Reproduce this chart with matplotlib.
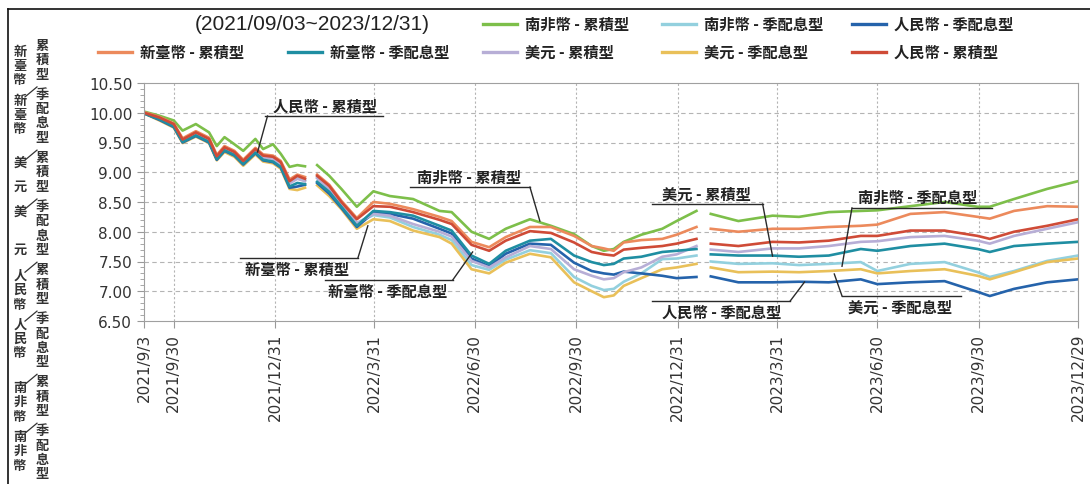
import matplotlib
matplotlib.use('Agg')
import matplotlib.pyplot as plt
import matplotlib.ticker as mticker
from matplotlib.lines import Line2D
import numpy as np
import pandas as pd

nan = np.nan

# 淨值走勢 (讀圖估計, 約兩三週一點; nan = 春節休市缺口)
dates = ['2021-09-03', '2021-09-17', '2021-09-30', '2021-10-08', '2021-10-20',
         '2021-11-01', '2021-11-08', '2021-11-15', '2021-11-24', '2021-12-02',
         '2021-12-13', '2021-12-20', '2021-12-29', '2022-01-05', '2022-01-13',
         '2022-01-20', '2022-01-27', '2022-02-01', '2022-02-07', '2022-02-18',
         '2022-03-01', '2022-03-15', '2022-03-30', '2022-04-14', '2022-05-05',
         '2022-05-29', '2022-06-09', '2022-06-27', '2022-07-13', '2022-07-28',
         '2022-08-19', '2022-09-07', '2022-09-28', '2022-10-14', '2022-10-25',
         '2022-11-03', '2022-11-12', '2022-11-28', '2022-12-17', '2022-12-30',
         '2023-01-17', '2023-01-24', '2023-01-30', '2023-02-24', '2023-03-27',
         '2023-04-20', '2023-05-17', '2023-06-15', '2023-06-30', '2023-07-30',
         '2023-08-30', '2023-09-29', '2023-10-10', '2023-11-01', '2023-12-01',
         '2023-12-29']

zar_acc = [10.02, 9.95, 9.87, 9.70, 9.81, 9.67, 9.44, 9.59, 9.47, 9.36,
           9.56, 9.39, 9.47, 9.31, 9.09, 9.12, 9.10, nan, 9.12, 8.94,
           8.72, 8.42, 8.68, 8.60, 8.55, 8.35, 8.33, 8.00, 7.88, 8.05,
           8.21, 8.10, 7.96, 7.76, 7.68, 7.71, 7.83, 7.95, 8.05, 8.18,
           8.35, nan, 8.30, 8.18, 8.27, 8.25, 8.33, 8.35, 8.36, 8.43,
           8.50, 8.42, 8.42, 8.55, 8.72, 8.85]
twd_acc = [10.01, 9.93, 9.82, 9.57, 9.69, 9.58, 9.29, 9.44, 9.36, 9.21,
           9.41, 9.30, 9.28, 9.19, 8.88, 8.96, 8.92, nan, 8.96, 8.79,
           8.52, 8.23, 8.50, 8.47, 8.38, 8.25, 8.18, 7.83, 7.74, 7.91,
           8.08, 8.08, 7.93, 7.76, 7.72, 7.68, 7.82, 7.86, 7.88, 7.95,
           8.08, nan, 8.05, 8.00, 8.05, 8.05, 8.08, 8.10, 8.12, 8.30,
           8.33, 8.25, 8.22, 8.35, 8.43, 8.42]
cny_acc = [10.00, 9.92, 9.81, 9.55, 9.67, 9.56, 9.27, 9.42, 9.34, 9.19,
           9.39, 9.28, 9.26, 9.17, 8.85, 8.94, 8.89, nan, 8.94, 8.77,
           8.50, 8.21, 8.43, 8.42, 8.33, 8.20, 8.13, 7.78, 7.68, 7.85,
           8.01, 7.98, 7.82, 7.66, 7.62, 7.60, 7.70, 7.73, 7.76, 7.80,
           7.88, nan, 7.80, 7.76, 7.83, 7.82, 7.85, 7.93, 7.93, 8.02,
           8.02, 7.93, 7.88, 8.00, 8.10, 8.21]
usd_acc = [10.00, 9.90, 9.79, 9.52, 9.64, 9.53, 9.24, 9.39, 9.31, 9.16,
           9.36, 9.25, 9.22, 9.13, 8.81, 8.89, 8.85, nan, 8.90, 8.72,
           8.46, 8.14, 8.30, 8.27, 8.13, 8.00, 7.92, 7.51, 7.40, 7.57,
           7.76, 7.71, 7.37, 7.26, 7.20, 7.22, 7.32, 7.40, 7.58, 7.62,
           7.76, nan, 7.70, 7.66, 7.72, 7.72, 7.76, 7.83, 7.84, 7.91,
           7.93, 7.85, 7.80, 7.93, 8.05, 8.16]
twd_div = [9.99, 9.89, 9.77, 9.51, 9.62, 9.51, 9.22, 9.37, 9.29, 9.14,
           9.33, 9.21, 9.18, 9.09, 8.76, 8.82, 8.80, nan, 8.84, 8.67,
           8.42, 8.10, 8.35, 8.33, 8.27, 8.10, 8.02, 7.60, 7.46, 7.68,
           7.85, 7.88, 7.60, 7.49, 7.44, 7.46, 7.55, 7.58, 7.66, 7.68,
           7.71, nan, 7.62, 7.60, 7.60, 7.58, 7.60, 7.71, 7.68, 7.76,
           7.80, 7.71, 7.66, 7.76, 7.80, 7.83]
zar_div = [10.00, 9.90, 9.79, 9.54, 9.66, 9.55, 9.27, 9.42, 9.33, 9.18,
           9.38, 9.26, 9.24, 9.15, 8.83, 8.90, 8.86, nan, 8.92, 8.74,
           8.47, 8.15, 8.28, 8.24, 8.08, 7.95, 7.86, 7.44, 7.36, 7.53,
           7.69, 7.64, 7.24, 7.09, 7.02, 7.04, 7.16, 7.30, 7.54, 7.55,
           7.60, nan, 7.50, 7.46, 7.47, 7.44, 7.46, 7.49, 7.34, 7.46,
           7.49, 7.32, 7.24, 7.34, 7.51, 7.60]
usd_div = [9.99, 9.87, 9.75, 9.49, 9.60, 9.49, 9.20, 9.34, 9.26, 9.11,
           9.30, 9.18, 9.15, 9.06, 8.72, 8.70, 8.74, nan, 8.78, 8.60,
           8.38, 8.05, 8.21, 8.18, 8.02, 7.91, 7.80, 7.37, 7.30, 7.48,
           7.63, 7.57, 7.15, 7.00, 6.90, 6.93, 7.09, 7.22, 7.37, 7.40,
           7.46, nan, 7.40, 7.32, 7.33, 7.32, 7.34, 7.37, 7.30, 7.34,
           7.37, 7.26, 7.20, 7.32, 7.49, 7.55]
cny_div = [9.99, 9.88, 9.76, 9.50, 9.61, 9.50, 9.21, 9.36, 9.28, 9.13,
           9.32, 9.20, 9.17, 9.08, 8.74, 8.76, 8.79, nan, 8.82, 8.64,
           8.40, 8.08, 8.32, 8.30, 8.22, 8.05, 7.97, 7.55, 7.42, 7.63,
           7.80, 7.78, 7.48, 7.34, 7.30, 7.28, 7.33, 7.30, 7.26, 7.22,
           7.24, nan, 7.25, 7.15, 7.15, 7.16, 7.15, 7.20, 7.12, 7.15,
           7.17, 6.99, 6.92, 7.04, 7.15, 7.20]

tick_dates = ['2021-09-03', '2021-09-30', '2021-12-31', '2022-03-31', '2022-06-30',
              '2022-09-30', '2022-12-31', '2023-03-31', '2023-06-30', '2023-09-30',
              '2023-12-29']
tick_labels = ['2021/9/3', '2021/9/30', '2021/12/31', '2022/3/31', '2022/6/30',
               '2022/9/30', '2022/12/31', '2023/3/31', '2023/6/30', '2023/9/30',
               '2023/12/29']
y_ticks = [6.5, 7.0, 7.5, 8.0, 8.5, 9.0, 9.5, 10.0, 10.5]

COL = {
    '南非幣 - 累積型': '#7dbf4a',
    '南非幣 - 季配息型': '#93d0de',
    '人民幣 - 季配息型': '#2563ab',
    '新臺幣 - 累積型': '#ec8a5c',
    '新臺幣 - 季配息型': '#1f8ea2',
    '美元 - 累積型': '#b7aed6',
    '美元 - 季配息型': '#e9c059',
    '人民幣 - 累積型': '#cf4b37',
}
series = {
    '南非幣 - 累積型': zar_acc, '南非幣 - 季配息型': zar_div,
    '人民幣 - 季配息型': cny_div, '新臺幣 - 累積型': twd_acc,
    '新臺幣 - 季配息型': twd_div, '美元 - 累積型': usd_acc,
    '美元 - 季配息型': usd_div, '人民幣 - 累積型': cny_acc,
}
draw_order = ['南非幣 - 季配息型', '美元 - 季配息型', '人民幣 - 季配息型', '美元 - 累積型',
              '新臺幣 - 季配息型', '南非幣 - 累積型', '新臺幣 - 累積型', '人民幣 - 累積型']

plt.rcParams['font.family'] = ['Noto Sans CJK TC', 'DejaVu Sans']

W, H = 1090, 485
fig = plt.figure(figsize=(W / 100, H / 100), dpi=100)


def fx(px):
    return px / W


def fy(py):
    return 1 - py / H


ax = fig.add_axes([fx(144), fy(322), fx(1078) - fx(144), fy(84) - fy(322)])
d = pd.to_datetime(dates)
for name in draw_order:
    ax.plot(d, series[name], color=COL[name], lw=1.9, solid_joinstyle='round')

ax.set_xlim(pd.Timestamp('2021-09-03'), pd.Timestamp('2023-12-29'))
ax.set_ylim(6.5, 10.5)
ax.set_yticks(y_ticks)
ax.yaxis.set_major_formatter(mticker.FormatStrFormatter('%.2f'))
ax.yaxis.set_minor_locator(mticker.MultipleLocator(0.1))
ax.set_xticks(pd.to_datetime(tick_dates))
ax.set_xticklabels(tick_labels, rotation=90, va='top', ha='center')
ax.tick_params(axis='both', colors='#999999', labelcolor='#333333',
               labelsize=11, length=5, width=0.8)
ax.tick_params(axis='y', which='minor', colors='#999999', length=3, width=0.6)
for lab in ax.get_xticklabels() + ax.get_yticklabels():
    lab.set_family('DejaVu Sans')
for s in ax.spines.values():
    s.set_color('#a0a0a0')
    s.set_linewidth(0.8)
ax.set_axisbelow(True)
for yv in y_ticks[1:-1]:
    ax.axhline(yv, color='#b4b4b4', lw=0.8, ls=(0, (4, 3)), zorder=0)
for xv in pd.to_datetime(tick_dates[1:-1]):
    ax.axvline(xv, color='#b4b4b4', lw=0.8, ls=(0, (2, 2)), zorder=0)

# 標註: (文字, 文字中心日期, 線高, 線起, 線迄, 引線端點日期, 引線端點值, 文字在線上方?)
notes = [
    ('人民幣 - 累積型', '2022-02-14', 9.945, '2021-12-22', '2022-04-08', '2021-12-24', '2021-12-15', 9.34, True),
    ('南非幣 - 累積型', '2022-06-25', 8.75, '2022-05-02', '2022-08-19', '2022-08-19', '2022-08-28', 8.18, True),
    ('新臺幣 - 累積型', '2022-01-20', 7.56, '2021-11-29', '2022-03-16', '2022-03-16', '2022-03-25', 8.10, False),
    ('新臺幣 - 季配息型', '2022-04-12', 7.19, '2022-02-14', '2022-06-10', '2022-06-10', '2022-06-28', 7.66, False),
    ('美元 - 累積型', '2023-01-26', 8.466, '2022-12-08', '2023-03-18', '2023-03-18', '2023-03-27', 7.59, True),
    ('人民幣 - 季配息型', '2023-02-09', 6.836, '2022-12-08', '2023-04-12', '2023-04-12', '2023-04-25', 7.155, False),
    ('南非幣 - 季配息型', '2023-08-06', 8.40, '2023-06-07', '2023-10-12', '2023-06-07', '2023-05-29', 7.42, True),
    ('美元 - 季配息型', '2023-07-21', 6.92, '2023-05-29', '2023-09-14', '2023-05-29', '2023-05-22', 7.29, False),
]
for txt, tc, ly, lx0, lx1, kx, px, pv, above in notes:
    ax.plot(pd.to_datetime([lx0, lx1]), [ly, ly], color='#2a2a2a', lw=1.0,
            clip_on=False, zorder=5)
    ax.plot(pd.to_datetime([kx, px]), [ly, pv], color='#2a2a2a', lw=1.0,
            clip_on=False, zorder=5)
    ax.annotate(txt, xy=(pd.Timestamp(tc), ly), xytext=(0, 2 if above else -2),
                textcoords='offset points', ha='center',
                va='bottom' if above else 'top', fontsize=11,
                fontweight='bold', color='#222222', zorder=6)

# 圖例 (手動排列, 兩列)
fig.text(fx(312), fy(25), '(2021/09/03~2023/12/31)', family='Liberation Sans',
         fontsize=15, ha='center', va='center', color='#222222')
legend_items = [
    ('南非幣 - 累積型', 483, 25), ('南非幣 - 季配息型', 662, 25), ('人民幣 - 季配息型', 852, 25),
    ('新臺幣 - 累積型', 98, 53), ('新臺幣 - 季配息型', 288, 53), ('美元 - 累積型', 483, 53),
    ('美元 - 季配息型', 662, 53), ('人民幣 - 累積型', 852, 53),
]
for name, x0, yy in legend_items:
    fig.add_artist(Line2D([fx(x0), fx(x0 + 34)], [fy(yy), fy(yy)],
                          color=COL[name], lw=2.4))
    fig.text(fx(x0 + 42), fy(yy), name, fontsize=11, fontweight='bold',
             ha='left', va='center', color='#222222')

# 左側直排說明
groups = [('新臺幣', '累積型'), ('新臺幣', '季配息型'), ('美元', '累積型'), ('美元', '季配息型'),
          ('人民幣', '累積型'), ('人民幣', '季配息型'), ('南非幣', '累積型'), ('南非幣', '季配息型')]
pitch, gap, y0 = 14.3, 6.0, 46.0
yc = y0
for gi, (cur, kind) in enumerate(groups):
    if gi > 0:
        fig.add_artist(Line2D([fx(25), fx(37)], [fy(yc + 3), fy(yc - 7)],
                              color='#333333', lw=0.9))
    for k, ch in enumerate(kind):
        fig.text(fx(42), fy(yc + k * pitch), ch, fontsize=9.5, fontweight='bold',
                 ha='center', va='center', color='#333333')
    if cur == '美元':
        pos = [0.3, len(kind) - 1]
    else:
        pos = [0.4 + k for k in range(len(cur))]
    for ch, p in zip(cur, pos):
        fig.text(fx(20), fy(yc + p * pitch), ch, fontsize=9.5, fontweight='bold',
                 ha='center', va='center', color='#333333')
    yc += len(kind) * pitch + gap

# 外框
fig.add_artist(Line2D([fx(8), fx(8)], [fy(10), 0], color='#111111', lw=1.2))
fig.add_artist(Line2D([fx(8), 1], [fy(10), fy(10)], color='#111111', lw=1.2))

fig.savefig('out.png', dpi=100)
